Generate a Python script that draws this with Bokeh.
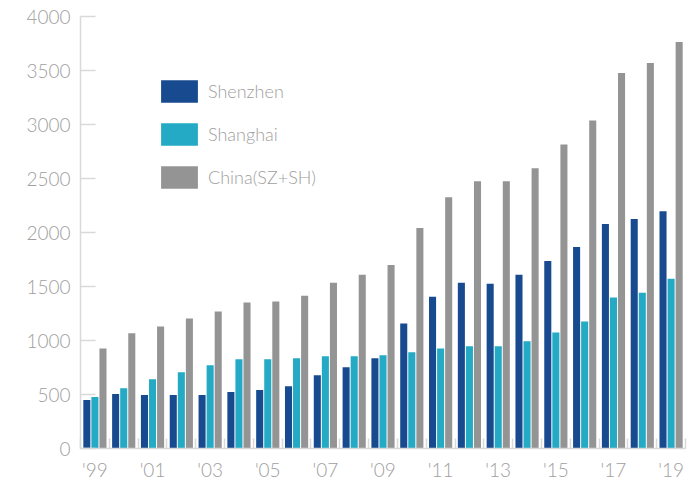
from bokeh.plotting import figure
from bokeh.models import ColumnDataSource, FixedTicker, Legend, LegendItem
from bokeh.transform import dodge
from bokeh.embed import file_html
from bokeh.resources import INLINE

years = list(range(1999, 2020))
shenzhen = [449, 504, 495, 495, 495, 522, 541, 577, 679, 752, 835,
            1158, 1406, 1535, 1526, 1608, 1737, 1866, 2078, 2124, 2197]
shanghai = [476, 559, 642, 706, 771, 826, 826, 835, 854, 854, 863,
            891, 927, 946, 946, 992, 1075, 1176, 1397, 1443, 1572]
china = [927, 1066, 1130, 1204, 1268, 1351, 1360, 1415, 1535, 1608, 1700,
         2041, 2327, 2474, 2474, 2594, 2815, 3036, 3478, 3570, 3763]
series_names = ["Shenzhen", "Shanghai", "China(SZ+SH)"]
colors = ["#174a8f", "#24aac4", "#949494"]
label_years = years[::2]
y_ticks = list(range(0, 4001, 500))

FONT = "Lato Light, Lato"
GRAY_TXT = "#a0a0a0"
AXIS_C = "#d9d9d9"

src = ColumnDataSource(dict(year=years, sz=shenzhen, sh=shanghai, cn=china))

p = figure(width=697, height=483, x_range=(years[0] - 0.5, years[-1] + 0.5),
           y_range=(0, 4000), output_backend="svg", toolbar_location=None,
           min_border_left=80, min_border_right=12, min_border_top=16,
           min_border_bottom=32)
p.outline_line_color = None
p.grid.visible = False
p.background_fill_color = "white"
p.border_fill_color = "white"

w = 0.245
r1 = p.vbar(x=dodge('year', -0.28, range=p.x_range), top='sz', width=w,
            source=src, fill_color=colors[0], line_color=None)
r2 = p.vbar(x=dodge('year', 0.0, range=p.x_range), top='sh', width=w,
            source=src, fill_color=colors[1], line_color=None)
r3 = p.vbar(x=dodge('year', 0.28, range=p.x_range), top='cn', width=w,
            source=src, fill_color=colors[2], line_color=None)

# x axis
xa = p.xaxis[0]
xa.ticker = FixedTicker(ticks=label_years,
                        minor_ticks=[y + 0.5 for y in [years[0] - 1] + years])
xa.major_label_overrides = {y: "'" + str(y)[2:] for y in label_years}
xa.major_tick_in = 0
xa.major_tick_out = 0
xa.minor_tick_in = 10
xa.minor_tick_out = 0
xa.minor_tick_line_color = AXIS_C
xa.minor_tick_line_width = 1.5
xa.axis_line_color = AXIS_C
xa.axis_line_width = 1.5
xa.major_label_text_font = FONT
xa.major_label_text_font_size = "19px"
xa.major_label_text_color = GRAY_TXT
xa.major_label_standoff = 9

# y axis
ya = p.yaxis[0]
ya.ticker = FixedTicker(ticks=y_ticks)
ya.major_tick_in = 15
ya.major_tick_out = 0
ya.major_tick_line_color = AXIS_C
ya.major_tick_line_width = 1.5
ya.minor_tick_line_color = None
ya.axis_line_color = AXIS_C
ya.axis_line_width = 1.5
ya.major_label_text_font = FONT
ya.major_label_text_font_size = "19px"
ya.major_label_text_color = GRAY_TXT
ya.major_label_standoff = 10

legend = Legend(items=[LegendItem(label=series_names[0], renderers=[r1]),
                       LegendItem(label=series_names[1], renderers=[r2]),
                       LegendItem(label=series_names[2], renderers=[r3])],
                location=(76, 257), glyph_width=46, glyph_height=28,
                spacing=15, label_standoff=6, padding=0, margin=0,
                border_line_color=None, background_fill_alpha=0,
                label_text_font=FONT, label_text_font_size="18px",
                label_text_color=GRAY_TXT)
p.add_layout(legend)

open("out.html", "w").write(file_html(p, INLINE))
